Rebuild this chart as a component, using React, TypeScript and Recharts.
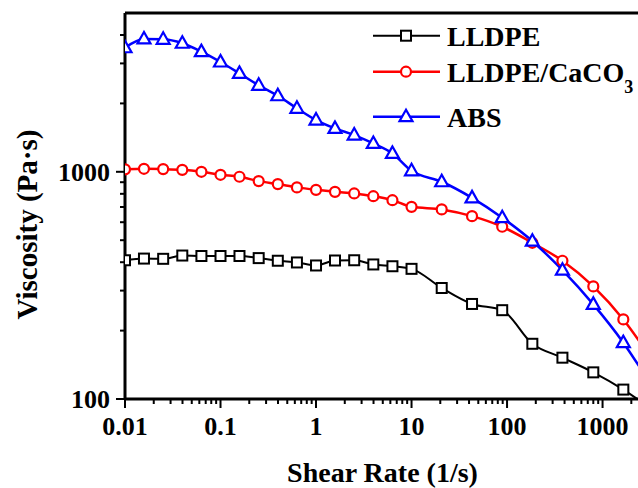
import { LineChart, Line, XAxis, YAxis, ReferenceLine } from 'recharts'

// shear rate (1/s), last point sits past the cut-off right edge
const shearRate = [
  0.01, 0.0158, 0.0251, 0.0398, 0.0631, 0.1, 0.158, 0.251, 0.398, 0.631, 1, 1.58, 2.51, 3.98,
  6.31, 10, 20.7, 43, 89, 184, 380, 800, 1650, 3400,
]
const lldpe = [
  408, 415, 414, 428, 426, 426, 426, 417, 406, 399, 387, 407, 408, 391, 384, 374, 308, 262, 246,
  175, 152, 131, 110, 89,
]
const lldpeCaco3 = [
  1025, 1031, 1028, 1020, 1000, 970, 951, 910, 883, 854, 833, 816, 803, 781, 750, 701, 683, 638,
  573, 487, 406, 313, 224, 146,
]
const abs = [
  3516, 3843, 3830, 3680, 3380, 3043, 2711, 2403, 2162, 1903, 1690, 1553, 1451, 1333, 1205, 1010,
  904, 768, 628, 495, 369, 261, 177, 111,
]

const xDecades = [0.01, 0.1, 1, 10, 100, 1000]
const yTicks = [100, 200, 300, 400, 500, 600, 700, 800, 900, 1000, 2000, 3000, 4000]
const X_MAX = 2350

const FONT = "'Liberation Serif', 'Times New Roman', serif"

const xTicks: number[] = []
xDecades.forEach((d) => {
  for (let m = 1; m <= 9; m++) {
    const v = +(d * m).toPrecision(3)
    if (v <= X_MAX) xTicks.push(v)
  }
})

const isMajor = (v: number) => Math.abs(Math.log10(v) - Math.round(Math.log10(v))) < 1e-6

const data = shearRate.map((x, i) => ({
  x,
  lldpe: lldpe[i],
  caco3: lldpeCaco3[i],
  abs: abs[i],
}))

type Shape = 'square' | 'circle' | 'triangle'

const series: { key: string; color: string; shape: Shape; width: number }[] = [
  { key: 'lldpe', color: '#000000', shape: 'square', width: 2 },
  { key: 'caco3', color: '#ff0000', shape: 'circle', width: 2.5 },
  { key: 'abs', color: '#0000ff', shape: 'triangle', width: 2.5 },
]

function Marker({ shape, cx, cy, color }: { shape: Shape; cx: number; cy: number; color: string }) {
  if (shape === 'square')
    return <rect x={cx - 5} y={cy - 5} width={10} height={10} fill="#fff" stroke={color} strokeWidth={2} />
  if (shape === 'circle') return <circle cx={cx} cy={cy} r={5} fill="#fff" stroke={color} strokeWidth={2.2} />
  return (
    <polygon
      points={`${cx},${cy - 7} ${cx - 6.5},${cy + 4.5} ${cx + 6.5},${cy + 4.5}`}
      fill="#fff"
      stroke={color}
      strokeWidth={2.2}
      strokeLinejoin="miter"
    />
  )
}

function XTick(props: any) {
  const { x, y, payload } = props
  const major = isMajor(payload.value)
  return (
    <g>
      <line x1={x} x2={x} y1={y} y2={y + (major ? 9 : 5)} stroke="#000" strokeWidth={2} />
      {major && (
        <text x={x} y={y + 36} textAnchor="middle" fontFamily={FONT} fontWeight="bold" fontSize={26} fill="#000">
          {String(payload.value)}
        </text>
      )}
    </g>
  )
}

function YTick(props: any) {
  const { x, y, payload } = props
  const major = isMajor(payload.value)
  return (
    <g>
      <line x1={x} x2={x - (major ? 9 : 5)} y1={y} y2={y} stroke="#000" strokeWidth={2} />
      {major && (
        <text x={x - 15} y={y + 9} textAnchor="end" fontFamily={FONT} fontWeight="bold" fontSize={26} fill="#000">
          {String(payload.value)}
        </text>
      )}
    </g>
  )
}

function XTitle(props: any) {
  const vb = props.viewBox ?? { x: 125, y: 399, width: 513, height: 89 }
  return (
    <text x={382.5} y={vb.y + 82.7} textAnchor="middle" fontFamily={FONT} fontWeight="bold" fontSize={28} fill="#000">
      Shear Rate (1/s)
    </text>
  )
}

function YTitle(props: any) {
  const vb = props.viewBox ?? { x: 0, y: 13, width: 125, height: 386 }
  const cx = vb.x + 37
  const cy = 224.5
  return (
    <text
      x={cx}
      y={cy}
      transform={`rotate(-90, ${cx}, ${cy})`}
      textAnchor="middle"
      fontFamily={FONT}
      fontWeight="bold"
      fontSize={29}
      fill="#000"
    >
      Viscosity (Pa·s)
    </text>
  )
}

const legendRows = [
  { label: 'LLDPE', sub: '', y: 35.7 },
  { label: 'LLDPE/CaCO', sub: '3', y: 71.7 },
  { label: 'ABS', sub: '', y: 116.7 },
]

function ChartLegend() {
  return (
    <svg
      width={638}
      height={488}
      style={{ position: 'absolute', left: 0, top: 0, pointerEvents: 'none' }}
    >
      {series.map((s, i) => {
        const row = legendRows[i]
        return (
          <g key={s.key}>
            <line x1={373} x2={440} y1={row.y} y2={row.y} stroke={s.color} strokeWidth={s.width} />
            <Marker shape={s.shape} cx={406} cy={row.y} color={s.color} />
            <text x={447} y={row.y + 10} fontFamily={FONT} fontWeight="bold" fontSize={28} fill="#000">
              {row.label}
              {row.sub && (
                <tspan fontSize={18} dy={11}>
                  {row.sub}
                </tspan>
              )}
            </text>
          </g>
        )
      })}
    </svg>
  )
}

export default function App() {
  return (
    <div
      style={{
        position: 'absolute',
        left: 0,
        top: 0,
        width: 638,
        height: 488,
        overflow: 'hidden',
        background: '#fff',
      }}
    >
      <LineChart width={638} height={488} data={data} margin={{ top: 13, right: 0, bottom: 0, left: 0 }}>
        <XAxis
          dataKey="x"
          type="number"
          scale="log"
          domain={[0.01, X_MAX]}
          allowDataOverflow
          ticks={xTicks}
          interval={0}
          tickLine={false}
          tickSize={0}
          tickMargin={0}
          height={89}
          axisLine={{ stroke: '#000', strokeWidth: 3 }}
          tick={XTick}
          label={{ content: XTitle }}
        />
        <YAxis
          type="number"
          scale="log"
          domain={[100, 5000]}
          allowDataOverflow
          ticks={yTicks}
          interval={0}
          tickLine={false}
          tickSize={0}
          tickMargin={0}
          width={125}
          axisLine={{ stroke: '#000', strokeWidth: 3 }}
          tick={YTick}
          label={{ content: YTitle }}
        />
        <ReferenceLine y={5000} stroke="#000" strokeWidth={3} />
        {series.map((s) => (
          <Line
            key={s.key}
            dataKey={s.key}
            type="monotone"
            stroke={s.color}
            strokeWidth={s.width}
            isAnimationActive={false}
            dot={(p: any) => <Marker key={`${s.key}-${p.index}`} shape={s.shape} cx={p.cx} cy={p.cy} color={s.color} />}
            activeDot={false}
          />
        ))}
      </LineChart>
      <ChartLegend />
    </div>
  )
}
